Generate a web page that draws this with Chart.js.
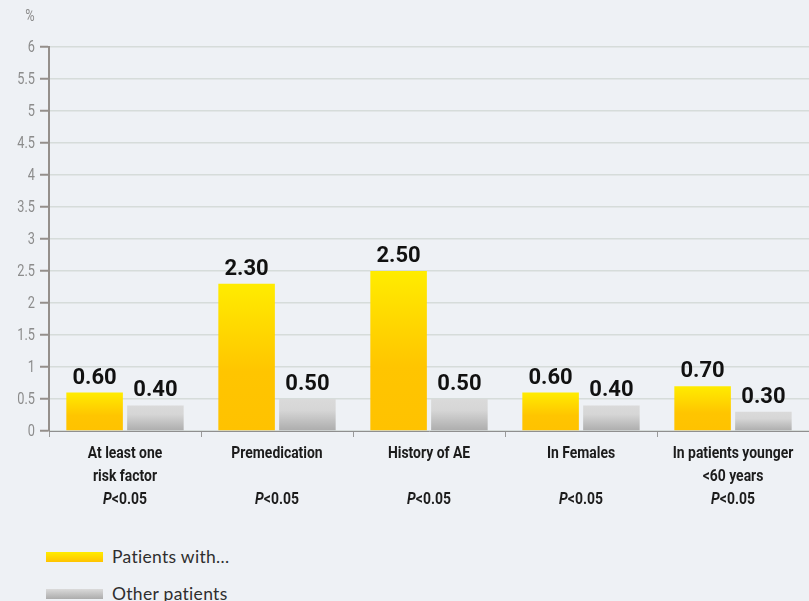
<!DOCTYPE html>
<html>
<head>
<meta charset="utf-8">
<script src="https://cdn.jsdelivr.net/npm/chart.js@4/dist/chart.umd.min.js"></script>
<style>
  html, body { margin: 0; padding: 0; background: #eef1f5; }
  body { width: 809px; height: 601px; position: relative; overflow: hidden; }
  #wrap { position: absolute; left: 0; top: 0; width: 809px; height: 520px; }
  .legend { position: absolute; left: 46px; font-family: Lato, Roboto, sans-serif; font-size: 17.5px; letter-spacing: 0.3px; color: #2e2e2e; display: flex; align-items: center; }
  .legend .swatch { width: 57px; height: 10px; margin-right: 9px; }
  #lg1 { top: 546px; }
  #lg2 { top: 583px; }
  #lg1 .swatch { background: linear-gradient(#ffec00, #ffc300); }
  #lg2 .swatch { background: linear-gradient(#dadada, #acacac); }
</style>
</head>
<body>
<div id="wrap"><canvas id="chart"></canvas></div>
<div class="legend" id="lg1"><div class="swatch"></div><span>Patients with...</span></div>
<div class="legend" id="lg2"><div class="swatch"></div><span>Other patients</span></div>
<script>
// Category label lines (the P-value line is drawn separately: italic "P" + threshold)
const categories = [
  ["At least one", "risk factor"],
  ["Premedication"],
  ["History of AE"],
  ["In Females"],
  ["In patients younger", "<60 years"]
];
const pValues = ["<0.05", "<0.05", "<0.05", "<0.05", "<0.05"];
const seriesNames = ["Patients with...", "Other patients"];
const patientsWith = [0.60, 2.30, 2.50, 0.60, 0.70];
const otherPatients = [0.40, 0.50, 0.50, 0.40, 0.30];
const yTickLabels = ["0", "0.5", "1", "1.5", "2", "2.5", "3", "3.5", "4", "4.5", "5", "5.5", "6"];

const face = "Roboto, 'Liberation Sans', sans-serif";

// Vertical gradient spanning each individual bar
function barGradient(stops) {
  return function (ctx) {
    const chart = ctx.chart;
    if (!chart.chartArea || ctx.raw === undefined) return stops[0][1];
    const y = chart.scales.y;
    const top = y.getPixelForValue(ctx.raw);
    const base = y.getPixelForValue(0);
    const g = chart.ctx.createLinearGradient(0, top, 0, base);
    stops.forEach(s => g.addColorStop(s[0], s[1]));
    return g;
  };
}

// Condensed text: draw with a horizontal squeeze around the anchor point
function narrowText(ctx, text, x, y, align, squeeze) {
  ctx.save();
  ctx.translate(x, y);
  ctx.scale(squeeze, 1);
  ctx.textAlign = align;
  ctx.fillText(text, 0, 0);
  ctx.restore();
}

const valueLabels = {
  id: 'valueLabels',
  afterDatasetsDraw(chart) {
    const ctx = chart.ctx;
    ctx.save();
    ctx.font = "bold 22px " + face;
    ctx.fillStyle = '#111111';
    ctx.textBaseline = 'alphabetic';
    chart.data.datasets.forEach((ds, di) => {
      chart.getDatasetMeta(di).data.forEach((bar, i) => {
        narrowText(ctx, ds.data[i].toFixed(2), bar.x, bar.y - 9, 'center', 1.0);
      });
    });
    ctx.restore();
  }
};

const axisText = {
  id: 'axisText',
  afterDraw(chart) {
    const ctx = chart.ctx;
    const xs = chart.scales.x;
    const ys = chart.scales.y;
    const bottom = chart.chartArea.bottom;
    const sq = 0.87;
    ctx.save();
    ctx.fillStyle = '#1c1c1c';
    ctx.textBaseline = 'alphabetic';
    categories.forEach((lines, i) => {
      const cx = xs.getPixelForValue(i);
      ctx.font = "bold 16px " + face;
      lines.forEach((ln, k) => narrowText(ctx, ln, cx, bottom + 27 + k * 23, 'center', sq));
      const pFont = "italic bold 16px " + face;
      const rFont = "bold 16px " + face;
      ctx.font = pFont;
      const wP = ctx.measureText("P").width * sq;
      ctx.font = rFont;
      const wR = ctx.measureText(pValues[i]).width * sq;
      const x = cx - (wP + wR) / 2;
      ctx.font = pFont;
      narrowText(ctx, "P", x, bottom + 73, 'left', sq);
      ctx.font = rFont;
      narrowText(ctx, pValues[i], x + wP, bottom + 73, 'left', sq);
    });
    // value axis labels
    ctx.fillStyle = '#8c8c8c';
    ctx.font = "17px " + face;
    ctx.textBaseline = 'middle';
    yTickLabels.forEach(t => {
      narrowText(ctx, t, ys.left + ys.width - 14, ys.getPixelForValue(parseFloat(t)) + 1, 'right', 0.75);
    });
    // unit label above the value axis
    ctx.font = "16px " + face;
    ctx.textBaseline = 'alphabetic';
    narrowText(ctx, '%', 30, 21, 'center', 0.8);
    ctx.restore();
  }
};

new Chart(document.getElementById('chart'), {
  type: 'bar',
  data: {
    labels: categories.map(c => c.join(' ')),
    datasets: [
      {
        label: seriesNames[0],
        data: patientsWith,
        backgroundColor: barGradient([[0, '#ffec00'], [0.6, '#ffc500'], [1, '#ffc200']]),
        categoryPercentage: 0.8,
        barPercentage: 0.93
      },
      {
        label: seriesNames[1],
        data: otherPatients,
        backgroundColor: barGradient([[0, '#dadada'], [0.35, '#d6d6d6'], [1, '#acacac']]),
        categoryPercentage: 0.8,
        barPercentage: 0.93
      }
    ]
  },
  options: {
    responsive: true,
    maintainAspectRatio: false,
    animation: false,
    layout: { padding: { top: 47, bottom: 83, left: 0, right: 0 } },
    plugins: {
      legend: { display: false },
      tooltip: { enabled: false }
    },
    scales: {
      x: {
        afterFit(scale) { scale.height = 6; },
        ticks: { display: false },
        grid: {
          offset: true,
          drawOnChartArea: false,
          drawTicks: true,
          tickLength: 6,
          color: '#9a9a9a',
          tickColor: '#9a9a9a',
          lineWidth: 1
        },
        border: { display: true, color: '#8f8f8f', width: 1 }
      },
      y: {
        min: 0,
        max: 6,
        afterFit(scale) { scale.width = 49; },
        ticks: { display: false, stepSize: 0.5 },
        grid: {
          color: '#d6dcda',
          lineWidth: 1.5,
          tickLength: 9,
          tickColor: '#948f8b',
          tickWidth: 2
        },
        border: { display: true, color: '#948f8b', width: 2 }
      }
    }
  },
  plugins: [valueLabels, axisText]
});
</script>
</body>
</html>
